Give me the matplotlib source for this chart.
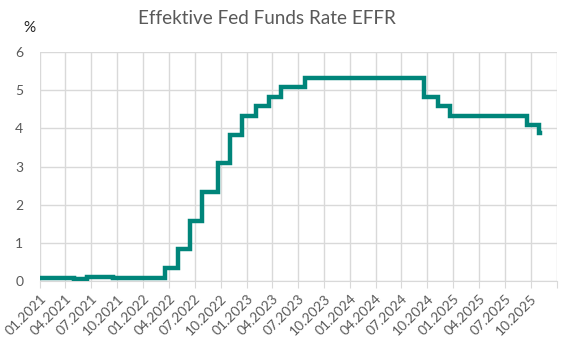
import numpy as np
import pandas as pd
import matplotlib
matplotlib.use("Agg")
import matplotlib.pyplot as plt
import matplotlib.dates as mdates

# EFFR levels (%) and the dates from which they apply
change_dates = ["2021-01-01", "2021-01-20", "2021-03-01", "2021-05-01", "2021-06-17",
                "2021-09-15", "2022-03-17", "2022-05-05", "2022-06-16", "2022-07-28",
                "2022-09-22", "2022-11-03", "2022-12-15", "2023-02-02", "2023-03-23",
                "2023-05-04", "2023-07-27", "2024-09-19", "2024-11-08", "2024-12-19",
                "2025-09-18", "2025-10-30"]
rates = [0.09, 0.08, 0.07, 0.06, 0.10,
         0.08, 0.33, 0.83, 1.58, 2.33,
         3.08, 3.83, 4.33, 4.58, 4.83,
         5.08, 5.33, 4.83, 4.58, 4.33,
         4.09, 3.87]
last_date = "2025-11-03"

tick_labels = ["01.2021", "04.2021", "07.2021", "10.2021", "01.2022", "04.2022", "07.2022",
               "10.2022", "01.2023", "04.2023", "07.2023", "10.2023", "01.2024", "04.2024",
               "07.2024", "10.2024", "01.2025", "04.2025", "07.2025", "10.2025"]

dates = pd.to_datetime(change_dates + [last_date])
values = rates + [rates[-1]]

text_col = "#595959"
grid_col = "#D9D9D9"
plt.rcParams["font.family"] = ["Lato", "DejaVu Sans"]

fig = plt.figure(figsize=(5.62, 3.45), dpi=100)
ax = fig.add_axes([40 / 562, 1 - 281 / 345, 516.7 / 562, 229 / 345])

ax.plot(dates, values, drawstyle="steps-post", color="#00857A", lw=3.2,
        solid_joinstyle="miter", zorder=3)

ticks = pd.to_datetime([pd.Timestamp(year=int(t[3:]), month=int(t[:2]), day=1) for t in tick_labels]
                       + [pd.Timestamp("2026-01-01")])
ax.set_xlim(ticks[0], ticks[-1])
ax.set_xticks(ticks)
ax.set_xticklabels(tick_labels + [""], rotation=45, ha="right", va="top",
                   rotation_mode="anchor", fontsize=10, color=text_col)
ax.set_ylim(0, 6)
ax.set_yticks(range(0, 7))
ax.tick_params(axis="y", length=0, labelsize=10, labelcolor=text_col, pad=12)
ax.tick_params(axis="x", length=5, color=grid_col, pad=3)
ax.grid(True, color=grid_col, lw=1)
for s in ["top", "right", "left"]:
    ax.spines[s].set_visible(False)
ax.spines["bottom"].set_color(grid_col)

fig.text(267 / 562, 1 - 18 / 345, "Effektive Fed Funds Rate EFFR", ha="center", va="center",
         fontsize=13.6, color=text_col)
fig.text(29 / 562, 1 - 28 / 345, "%", ha="center", va="center", fontsize=11, color="#222222")

fig.savefig("out.png", dpi=100)
